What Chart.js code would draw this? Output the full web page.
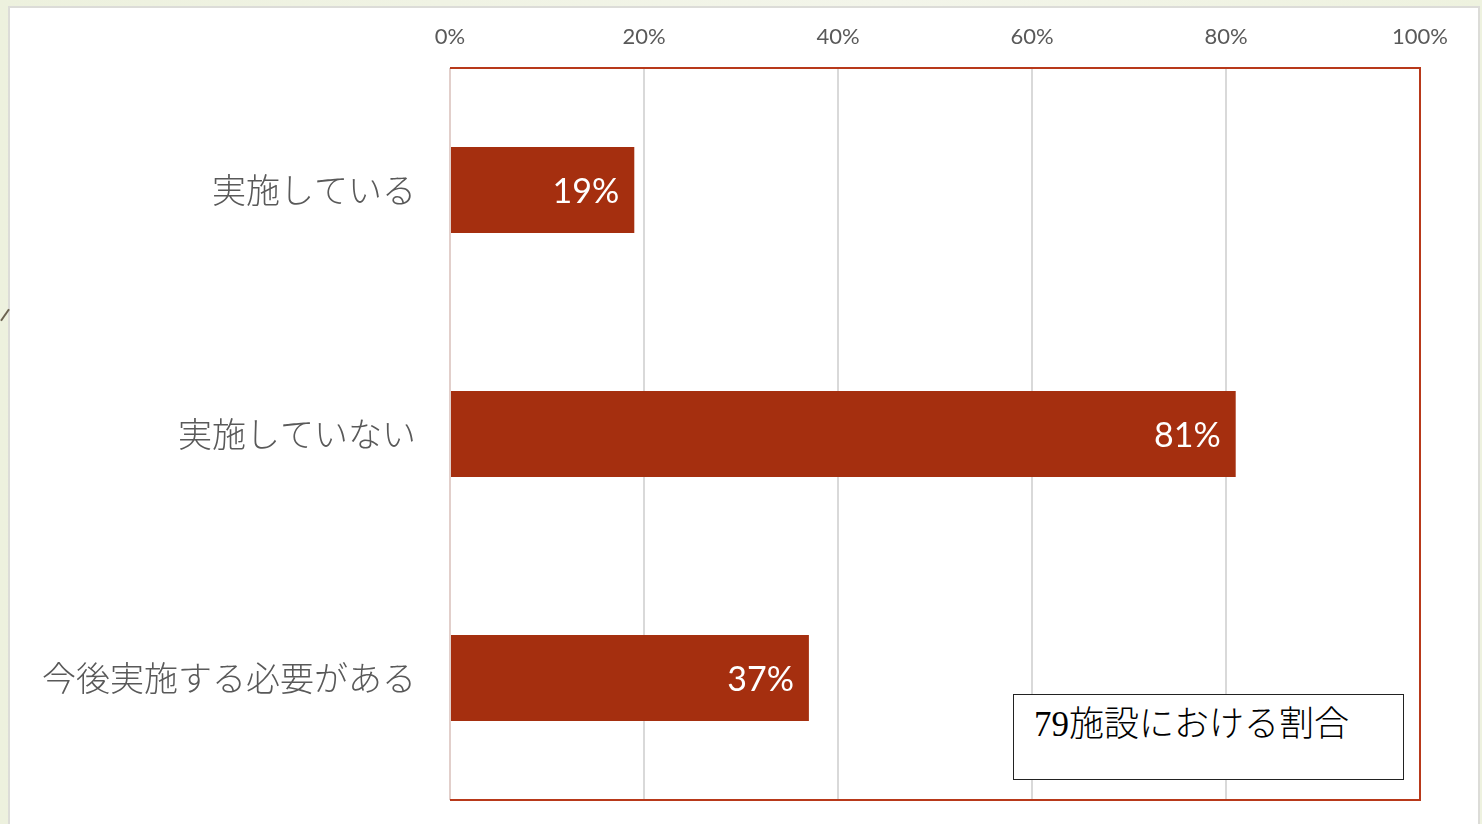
<!DOCTYPE html>
<html>
<head>
<meta charset="utf-8">
<script src="https://cdn.jsdelivr.net/npm/chart.js@4.4.0/dist/chart.umd.min.js"></script>
<style>
  html, body { margin: 0; padding: 0; }
  body { width: 1482px; height: 824px; overflow: hidden; position: relative;
         background: linear-gradient(90deg, #edf1de, #f3f5ea 60%, #eef2df); }
  #panel { position: absolute; left: 8px; top: 6px; width: 1468px; height: 830px;
           background: #fff; border: 2px solid #dcdcd8; }
  #slash { position: absolute; left: -2px; top: 314px; width: 14px; height: 2px;
           background: #6b6250; transform: rotate(-55deg); }
  #chart { position: absolute; left: 0; top: 0; }
  #note { position: absolute; left: 1013px; top: 694px; width: 389px; height: 84px;
          border: 1px solid #222; background: #fff; box-sizing: content-box;
          font-family: "Liberation Serif", "Noto Sans CJK JP", serif; font-size: 35px;
          font-weight: 300; color: #000; line-height: 40px; padding: 0; }
  #note span { position: absolute; left: 20px; top: 10px; white-space: nowrap; }
</style>
</head>
<body>
<div id="panel"></div>
<div id="slash"></div>
<canvas id="chart" width="1482" height="824"></canvas>
<div id="note"><span>79施設における割合</span></div>
<script>
const categories = ['実施している', '実施していない', '今後実施する必要がある'];
const shares = [19, 81, 37];
const tickValues = [0, 20, 40, 60, 80, 100];

const barRed = '#a52f0f';

// red frame round the plot area, left edge stays pale like the gridline at 0%
const frame = {
    id: 'frame',
    afterDatasetsDraw(chart) {
        const { ctx, chartArea: a } = chart;
        ctx.save();
        ctx.lineWidth = 2;
        ctx.strokeStyle = '#e2cfcb';
        ctx.beginPath();
        ctx.moveTo(a.left, a.top);
        ctx.lineTo(a.left, a.bottom);
        ctx.stroke();
        ctx.strokeStyle = '#b8391a';
        ctx.beginPath();
        ctx.moveTo(a.left, a.top);
        ctx.lineTo(a.right, a.top);
        ctx.lineTo(a.right, a.bottom);
        ctx.lineTo(a.left, a.bottom);
        ctx.stroke();
        ctx.restore();
    }
};

// value labels inside the end of each bar
const barLabels = {
    id: 'barLabels',
    afterDatasetsDraw(chart) {
        const { ctx } = chart;
        const meta = chart.getDatasetMeta(0);
        ctx.save();
        ctx.fillStyle = '#ffffff';
        ctx.font = '34px "Lato", "DejaVu Sans", sans-serif';
        ctx.textAlign = 'right';
        ctx.textBaseline = 'middle';
        meta.data.forEach((bar, i) => {
            ctx.fillText(shares[i] + '%', bar.x - 15, bar.y + 2);
        });
        ctx.restore();
    }
};

const chart = new Chart(document.getElementById('chart'), {
    type: 'bar',
    data: {
        labels: categories,
        datasets: [{
            data: shares,
            backgroundColor: barRed,
            borderWidth: 0,
            barPercentage: 0.352,
            categoryPercentage: 1
        }]
    },
    options: {
        indexAxis: 'y',
        responsive: false,
        animation: false,
        layout: { padding: { left: 0, right: 62, top: 0, bottom: 24 } },
        plugins: { legend: { display: false }, tooltip: { enabled: false } },
        scales: {
            x: {
                position: 'top',
                min: 0,
                max: 100,
                afterFit(scale) { scale.height = 68; },
                afterBuildTicks(scale) { scale.ticks = tickValues.map(v => ({ value: v })); },
                border: { display: false },
                grid: { color: '#d9d9d9', lineWidth: 2, drawTicks: false },
                ticks: {
                    padding: 18,
                    color: '#595959',
                    font: { family: '"Lato", "DejaVu Sans", sans-serif', size: 22 },
                    callback: v => v + '%'
                }
            },
            y: {
                afterFit(scale) {
                    scale.width = 450;
                    scale.paddingTop = 0;
                    scale.paddingBottom = 0;
                },
                border: { display: false },
                grid: { display: false, drawTicks: false },
                ticks: {
                    padding: 34,
                    color: '#595959',
                    font: { family: '"Noto Sans CJK JP", sans-serif', size: 34, weight: 300 }
                }
            }
        }
    },
    plugins: [frame, barLabels]
});
</script>
</body>
</html>
